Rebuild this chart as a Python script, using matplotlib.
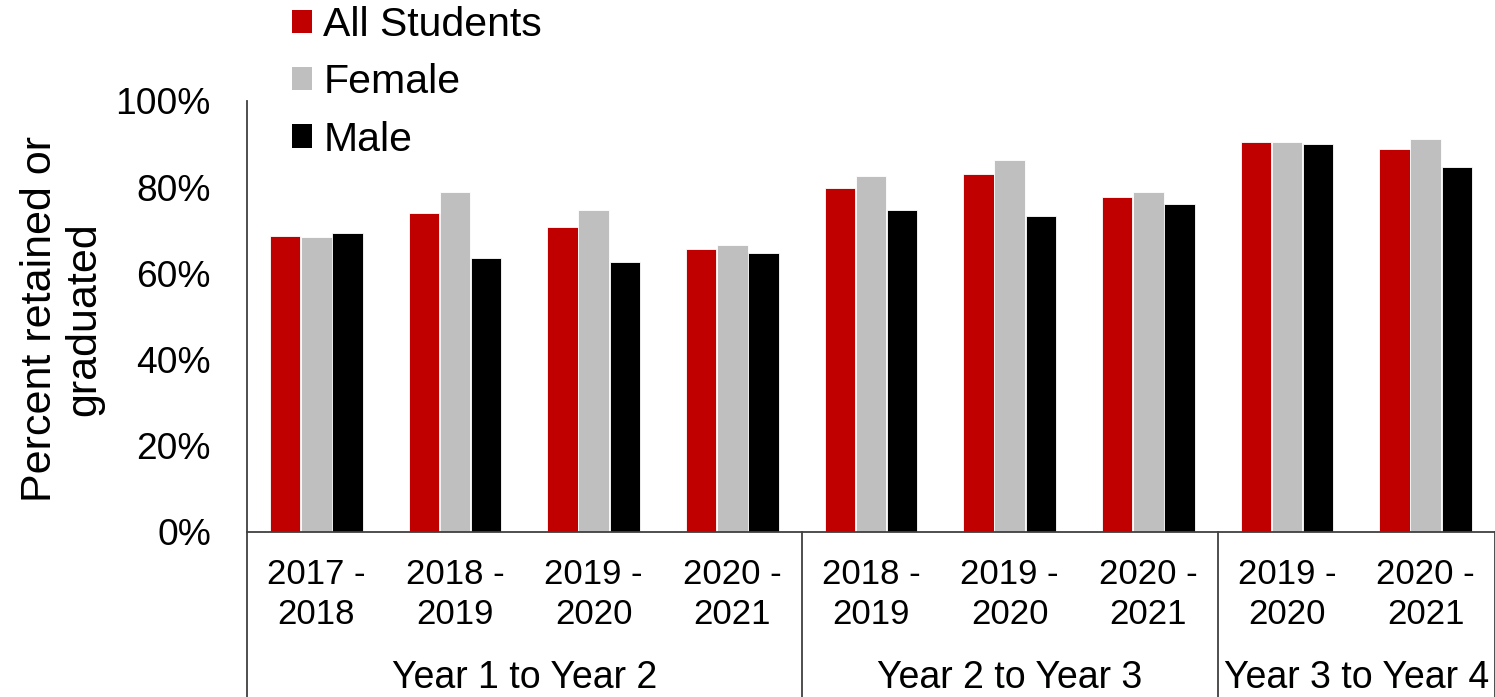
import matplotlib
matplotlib.use("Agg")
import matplotlib.pyplot as plt
import matplotlib.transforms as mtransforms
from matplotlib.patches import Patch
from matplotlib.lines import Line2D
import numpy as np

plt.rcParams['font.family'] = ['Liberation Sans', 'DejaVu Sans']

years = ["2017 -\n2018", "2018 -\n2019", "2019 -\n2020", "2020 -\n2021",
         "2018 -\n2019", "2019 -\n2020", "2020 -\n2021",
         "2019 -\n2020", "2020 -\n2021"]
groups = ["Year 1 to Year 2", "Year 2 to Year 3", "Year 3 to Year 4"]
group_sizes = [4, 3, 2]

all_students = [68.7, 73.9, 70.8, 65.6, 79.8, 83.0, 77.7, 90.5, 88.8]
female = [68.3, 78.8, 74.6, 66.6, 82.6, 86.4, 78.8, 90.5, 91.2]
male = [69.4, 63.5, 62.7, 64.6, 74.6, 73.3, 76.0, 89.9, 84.6]

series = [("All Students", all_students, "#C00000"),
          ("Female", female, "#BFBFBF"),
          ("Male", male, "#000000")]

W, H = 1495, 697
fig = plt.figure(figsize=(W / 100, H / 100), dpi=100)
ax_left, ax_bottom = 247 / W, (H - 531.5) / H
ax_top = (H - 101) / H
ax = fig.add_axes([ax_left, ax_bottom, 1.0 - ax_left, ax_top - ax_bottom])

x = np.arange(len(years))
bw = 0.22
offs = [-0.225, 0.0, 0.225]
for (name, vals, col), o in zip(series, offs):
    ax.bar(x + o, vals, width=bw, color=col, edgecolor="white", linewidth=0.6, label=name)

ax.set_xlim(-0.5, len(years) - 0.5)
ax.set_ylim(0, 100)
ax.set_yticks(np.arange(0, 101, 20))
ax.set_yticklabels([f"{v}%" for v in range(0, 101, 20)], fontsize=26.7)
ax.tick_params(axis='y', length=0, pad=26)
ax.set_xticks(x)
ax.set_xticklabels(years, fontsize=25, linespacing=1.27)
ax.tick_params(axis='x', length=0, pad=19)

axis_col = "#404040"
for s in ["top", "right"]:
    ax.spines[s].set_visible(False)
ax.spines["left"].set_color(axis_col)
ax.spines["bottom"].set_color(axis_col)
ax.spines["left"].set_linewidth(1.3)
ax.spines["bottom"].set_linewidth(1.3)

# group separators and labels
trans = mtransforms.blended_transform_factory(ax.transData, fig.transFigure)
bounds = np.concatenate([[0], np.cumsum(group_sizes)]) - 0.5
for b in bounds:
    ax.add_line(Line2D([b, b], [ax_bottom, 0], transform=trans, color=axis_col,
                       linewidth=1.3, clip_on=False))
for g, lo, hi in zip(groups, bounds[:-1], bounds[1:]):
    ax.text((lo + hi) / 2, (H - 688) / H, g, transform=trans, ha="center",
            va="baseline", fontsize=27)

fig.text(62 / W, (H - 319) / H, "Percent retained or\ngraduated", rotation=90,
         ha="center", va="center", multialignment="center", fontsize=31,
         linespacing=1.12)

handles = [Patch(facecolor=c, edgecolor="none") for _, _, c in series]
fig.legend(handles, [n for n, _, _ in series], loc="upper left",
           bbox_to_anchor=(292 / W, 1 - 6 / H), frameon=False, fontsize=29.5,
           handlelength=0.49, handleheight=0.49, handletextpad=0.27,
           labelspacing=0.47, borderpad=0, borderaxespad=0)

fig.savefig("out.png", dpi=100)
